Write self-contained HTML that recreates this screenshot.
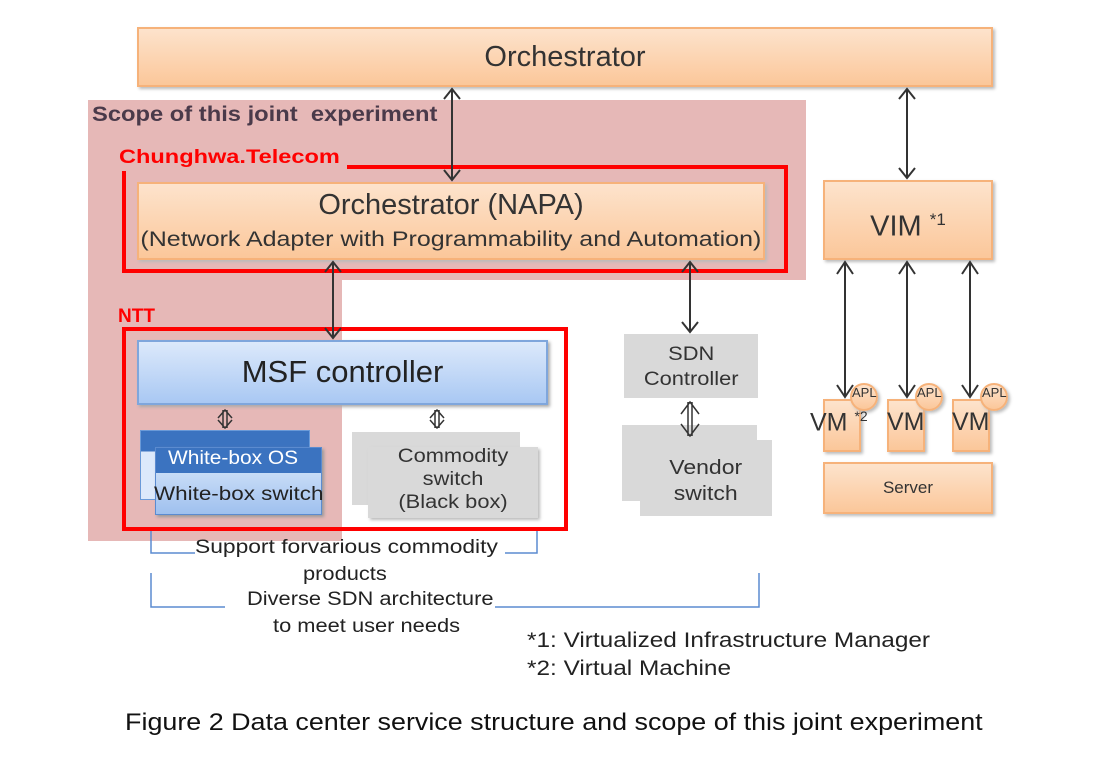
<!DOCTYPE html>
<html><head><meta charset="utf-8"><style>
body{margin:0;background:#fff;width:1108px;height:767px;position:relative;overflow:hidden;font-family:"Liberation Sans",sans-serif}
.a{position:absolute;box-sizing:border-box}
.or{background:linear-gradient(#fde3cc,#fbc79a);border:2px solid #f6b27a;box-shadow:2px 2px 3px #bbb;color:#333;text-align:center}
.bl{background:linear-gradient(#dce9fb,#a9c8f3);border:2px solid #7fa6dc;box-shadow:2px 2px 3px #aaa;color:#222;text-align:center}
.gr{background:#d9d9d9}
.t{position:absolute;white-space:nowrap;color:#333}
.s{display:inline-block;transform:scaleX(1.18);transform-origin:left}
.c{display:inline-block;transform:scaleX(1.15)}
</style></head><body>
<div class="a" style="left:88px;top:100px;width:718px;height:180px;background:#e6b8b7"></div>
<div class="a" style="left:88px;top:280px;width:254px;height:261px;background:#e6b8b7"></div>
<div class="a or" style="left:137px;top:27px;width:856px;height:60px;font-size:29px;line-height:56px">Orchestrator</div>
<div class="t" style="left:92px;top:103px;font-size:21px;font-weight:bold;color:#4a3a4a"><span class="s" style="transform:scaleX(1.13)">Scope of this joint&nbsp; experiment</span></div>
<div class="a" style="left:122px;top:165px;width:666px;height:108px;border:4px solid #f00"></div>
<div class="t" style="left:119px;top:147px;width:228px;height:24px;background:#e6b8b7"></div>
<div class="t" style="left:119px;top:147px;font-size:19px;font-weight:bold;color:#f00"><span class="s" style="transform:scaleX(1.24)">Chunghwa.Telecom</span></div>
<div class="a or" style="left:137px;top:182px;width:628px;height:78px;font-size:29px;line-height:32px;padding-top:5px">Orchestrator (NAPA)<br><span class="c" style="font-size:21px;transform:scaleX(1.19)">(Network Adapter with Programmability and Automation)</span></div>
<div class="a" style="left:122px;top:327px;width:446px;height:204px;border:4px solid #f00"></div>
<div class="t" style="left:118px;top:306px;font-size:19px;font-weight:bold;color:#f00">NTT</div>
<div class="a bl" style="left:137px;top:340px;width:411px;height:65px;font-size:31px;line-height:60px">MSF controller</div>
<div class="a" style="left:140px;top:430px;width:170px;height:70px;background:linear-gradient(#3b73c0 0,#3b73c0 30%,#dce9fb 30%);border:1px solid #6a9ad8"></div>
<div class="a" style="left:155px;top:447px;width:167px;height:68px;background:linear-gradient(#3b73c0 0,#3b73c0 38%,#c7dcf7 38%,#9fc0ee);border:1px solid #5b8bd0;box-shadow:2px 2px 3px #999"></div>
<div class="t" style="left:168px;top:448px;font-size:19px;color:#fff"><span class="s" style="transform:scaleX(1.1)">White-box OS</span></div>
<div class="t" style="left:154px;top:484px;font-size:19px;color:#222"><span class="s" style="transform:scaleX(1.18)">White-box switch</span></div>
<div class="a gr" style="left:352px;top:432px;width:168px;height:73px"></div>
<div class="a gr" style="left:368px;top:447px;width:170px;height:71px;box-shadow:2px 2px 3px #bbb"></div>
<div class="t" style="left:368px;top:445px;width:170px;text-align:center;font-size:19px;line-height:23px"><span class="c">Commodity<br>switch<br>(Black box)</span></div>
<div class="a gr" style="left:624px;top:334px;width:134px;height:64px"></div>
<div class="t" style="left:624px;top:342px;width:134px;text-align:center;font-size:19px;line-height:25px"><span class="c">SDN<br>Controller</span></div>
<div class="a gr" style="left:622px;top:425px;width:135px;height:76px"></div>
<div class="a gr" style="left:640px;top:440px;width:132px;height:76px"></div>
<div class="t" style="left:640px;top:455px;width:132px;text-align:center;font-size:20px;line-height:26px"><span class="c">Vendor<br>switch</span></div>
<div class="a or" style="left:823px;top:180px;width:170px;height:80px;font-size:29px;line-height:76px">VIM <sup style="font-size:17px">*1</sup></div>
<div class="a or" style="left:823px;top:399px;width:38px;height:53px"></div>
<div class="a or" style="left:887px;top:399px;width:38px;height:53px"></div>
<div class="a or" style="left:952px;top:399px;width:38px;height:53px"></div>
<div class="a or" style="left:850px;top:383px;width:28px;height:28px;border-radius:50%"></div>
<div class="a or" style="left:915px;top:383px;width:28px;height:28px;border-radius:50%"></div>
<div class="a or" style="left:980px;top:383px;width:28px;height:28px;border-radius:50%"></div>
<div class="t" style="left:852px;top:385px;font-size:13px">APL</div>
<div class="t" style="left:917px;top:385px;font-size:13px">APL</div>
<div class="t" style="left:982px;top:385px;font-size:13px">APL</div>
<div class="t" style="left:810px;top:408px;font-size:25px">VM <sup style="font-size:14px">*2</sup></div>
<div class="t" style="left:887px;top:408px;font-size:25px">VM</div>
<div class="t" style="left:952px;top:408px;font-size:25px">VM</div>
<div class="a or" style="left:823px;top:462px;width:170px;height:52px;font-size:17px;line-height:48px">Server</div>
<svg class="a" style="left:0;top:0" width="1108" height="767" fill="none" stroke="#333" stroke-width="2">
<g>
<path d="M452 89V180M444 99l8-10 8 10M444 170l8 10 8-10"/>
<path d="M907 89V178M899 99l8-10 8 10M899 168l8 10 8-10"/>
<path d="M333 262V338M325 272l8-10 8 10M325 328l8 10 8-10"/>
<path d="M690 262V332M682 272l8-10 8 10M682 322l8 10 8-10"/>
<path d="M845 262V397M837 274l8-12 8 12M837 385l8 12 8-12"/>
<path d="M907 262V397M899 274l8-12 8 12M899 385l8 12 8-12"/>
<path d="M970 262V397M962 274l8-12 8 12M962 385l8 12 8-12"/>
<path d="M223 410V428M227 410V428M218 418l7-8 7 8M218 420l7 8 7-8" stroke-width="1.5"/>
<path d="M435 410V428M439 410V428M430 418l7-8 7 8M430 420l7 8 7-8" stroke-width="1.5"/>
<path d="M688 402V436M692 402V436M681 414l9-12 9 12M681 424l9 12 9-12" stroke-width="1.5"/>
</g>
<g stroke="#5b8bd0" stroke-width="1.5">
<path d="M151 531V553H195M505 553H537V531"/>
<path d="M151 573V607H225M495 607H759V573"/>
</g>
</svg>
<div class="t" style="left:195px;top:537px;font-size:19px;color:#222"><span class="s" style="transform:scaleX(1.2)">Support forvarious commodity</span></div>
<div class="t" style="left:303px;top:564px;font-size:19px;color:#222"><span class="s" style="transform:scaleX(1.15)">products</span></div>
<div class="t" style="left:247px;top:589px;font-size:19px;color:#222"><span class="s" style="transform:scaleX(1.15)">Diverse SDN architecture</span></div>
<div class="t" style="left:273px;top:616px;font-size:19px;color:#222"><span class="s" style="transform:scaleX(1.15)">to meet user needs</span></div>
<div class="t" style="left:527px;top:629px;font-size:21px;color:#222"><span class="s" style="transform:scaleX(1.16)">*1: Virtualized Infrastructure Manager</span></div>
<div class="t" style="left:527px;top:657px;font-size:21px;color:#222"><span class="s" style="transform:scaleX(1.16)">*2: Virtual Machine</span></div>
<div class="t" style="left:0;width:1108px;text-align:center;top:709px;font-size:24px;color:#111"><span class="c" style="transform:scaleX(1.12)">Figure 2 Data center service structure and scope of this joint experiment</span></div>
</body></html>
